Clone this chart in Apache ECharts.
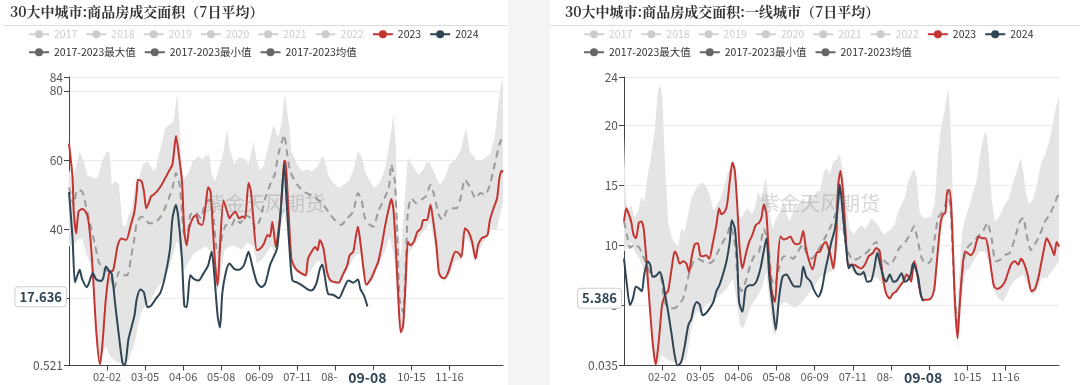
<!DOCTYPE html>
<html><head><meta charset="utf-8">
<script src="https://cdn.jsdelivr.net/npm/echarts@6/dist/echarts.min.js"></script>
<style>
html,body{margin:0;padding:0;background:#f4f4f4;width:1080px;height:385px;overflow:hidden;}
#c1{position:absolute;left:0;top:0;width:508px;height:385px;background:#fff;}
#c2{position:absolute;left:550px;top:0;width:530px;height:385px;background:#fff;}
</style></head><body>
<div id="c1"></div><div id="c2"></div>
<script>
// ---------- data (day index in year 2024, value) ----------
const YEAR_NAMES = ['2017','2018','2019','2020','2021','2022','2023','2024'];
const TICK_DAYS = [32,64,96,128,160,192,224,256,288,320];
const TITLE_L = '30大中城市:商品房成交面积（7日平均）';
const TITLE_R = '30大中城市:商品房成交面积:一线城市（7日平均）';
const WATERMARK = '紫金天风期货';

const L2024 = [[0,50.7],[3,37.3],[5,24.6],[7,26.5],[9,28.2],[11,25.6],[15,23.2],[17,24.6],[20,27.3],[23,25.4],[27,25.0],[29,26.1],[31,29.2],[34,27.8],[36,27.0],[39,17.8],[42,9.1],[45,1.3],[47,0.521],[50,8.1],[55,14.9],[57,19.8],[60,22.5],[63,21.7],[66,17.4],[69,17.8],[73,19.8],[77,21.7],[81,26.6],[85,34.4],[87,43.1],[90,47.0],[92,43.1],[95,31.4],[97,17.8],[99,17.4],[102,26.6],[105,25.6],[109,25.1],[113,27.1],[117,29.5],[120,33.4],[122,27.6],[125,14.9],[127,11.5],[129,21.7],[132,27.6],[135,30.0],[139,28.5],[143,28.2],[147,29.5],[151,33.4],[154,29.5],[158,24.6],[162,23.2],[165,24.2],[169,29.5],[172,31.9],[175,34.4],[178,45.1],[181,58.7],[183,48.0],[186,31.4],[188,25.1],[192,24.5],[196,23.7],[200,22.7],[204,22.2],[208,24.2],[211,28.5],[213,29.7],[215,26.6],[218,21.2],[222,21.0],[227,20.0],[231,22.7],[235,25.1],[239,24.5],[243,25.4],[245,22.7],[248,20.8],[251,17.636]];
const L2023 = [[0,64.7],[3,54.8],[4,45.0],[6,38.7],[8,45.0],[11,45.8],[14,45.0],[16,43.1],[18,37.3],[20,27.6],[23,10.1],[26,0.8],[28,6.2],[31,19.8],[34,27.6],[37,28.0],[39,31.4],[41,35.3],[44,37.3],[48,36.8],[52,41.2],[55,45.0],[57,50.9],[58,54.3],[61,53.8],[63,50.9],[65,46.0],[67,47.5],[69,49.4],[71,49.9],[74,50.9],[77,52.3],[81,54.8],[84,56.7],[87,58.7],[90,66.9],[92,62.5],[95,53.8],[97,39.2],[99,35.3],[101,40.2],[104,43.1],[107,44.1],[109,41.7],[112,41.2],[115,47.0],[117,52.1],[119,50.9],[121,40.2],[123,29.5],[125,23.7],[127,35.3],[130,48.2],[133,45.0],[135,43.1],[137,44.1],[140,45.0],[143,43.1],[146,43.6],[148,43.1],[151,53.3],[153,50.9],[155,43.1],[158,33.9],[161,34.4],[164,35.8],[167,38.3],[169,37.8],[171,42.1],[174,34.8],[176,39.2],[178,45.1],[181,59.6],[182,59.8],[184,48.9],[187,31.4],[189,29.5],[192,28.0],[196,27.1],[199,26.6],[201,31.4],[204,33.4],[207,34.8],[209,33.9],[211,36.8],[214,34.4],[217,27.6],[220,25.1],[224,24.6],[227,24.5],[230,26.6],[234,29.5],[236,32.4],[239,33.4],[241,37.3],[243,40.7],[245,36.3],[248,27.6],[250,23.9],[254,25.6],[257,28.0],[260,30.5],[263,35.3],[266,41.2],[269,46.0],[271,48.7],[273,45.1],[275,33.4],[277,19.8],[279,10.1],[281,12.0],[283,23.7],[285,36.3],[287,35.3],[290,36.3],[293,39.2],[296,40.2],[298,42.6],[301,42.6],[304,47.0],[306,43.1],[309,35.3],[311,27.6],[313,26.1],[316,25.8],[319,27.6],[322,31.0],[325,33.4],[328,32.9],[330,31.9],[333,40.2],[336,39.2],[339,36.3],[342,31.4],[344,35.3],[347,37.3],[350,37.8],[352,38.3],[354,42.6],[357,46.0],[360,48.9],[362,54.8],[364,56.9],[365,56.5]];
const LMEAN = [[0,52.0],[4,47.0],[7,51.4],[11,50.9],[14,47.0],[18,41.2],[22,35.3],[25,30.5],[29,28.5],[34,27.6],[38,22.7],[42,27.6],[45,26.6],[49,26.6],[52,31.4],[55,37.3],[57,41.7],[61,43.6],[64,43.1],[67,41.7],[71,41.7],[76,43.1],[80,45.5],[84,48.9],[87,51.9],[90,56.2],[93,52.8],[95,45.0],[97,38.3],[100,39.2],[102,44.1],[106,45.0],[111,43.1],[114,47.0],[118,48.5],[121,45.0],[124,34.4],[126,32.9],[129,38.3],[132,41.2],[136,40.7],[140,43.1],[144,41.7],[148,44.1],[153,43.1],[157,40.2],[161,43.1],[165,48.9],[169,52.8],[173,55.7],[176,61.6],[180,66.4],[181,67.3],[183,63.0],[186,56.7],[192,52.8],[197,50.9],[203,49.9],[208,48.9],[214,47.0],[220,44.1],[225,42.1],[229,41.2],[234,43.1],[239,45.0],[243,50.4],[246,48.5],[249,43.1],[253,41.2],[256,40.7],[260,45.0],[264,48.0],[269,51.9],[271,58.7],[274,53.8],[276,39.2],[278,19.8],[281,15.9],[283,27.6],[285,45.0],[288,48.9],[292,47.5],[296,48.5],[300,49.4],[304,52.8],[307,49.9],[311,44.1],[314,42.6],[318,45.5],[322,46.0],[326,46.0],[329,48.5],[333,54.3],[337,52.3],[342,48.9],[346,50.4],[350,49.9],[354,52.8],[358,58.7],[362,64.5],[365,67.0]];
const LMAX = [[0,57],[3,54],[7,59.6],[9,62.5],[13,59.1],[15,55.7],[20,54.8],[24,54.8],[28,59.6],[31,62.1],[34,62.5],[36,52.8],[39,53.8],[42,52.8],[45,41.2],[48,40.7],[50,44.1],[53,46.0],[56,53.8],[59,54.8],[62,58.7],[66,59.6],[69,58.2],[71,56.7],[73,57.7],[77,63.5],[81,69.3],[85,70.3],[88,71.3],[91,79.1],[93,70.3],[95,56.7],[97,54.8],[101,56.7],[104,59.6],[107,60.6],[109,61.1],[112,60.1],[115,61.1],[118,61.6],[120,55.7],[123,53.8],[126,57.7],[129,60.6],[133,68.9],[135,63.5],[139,58.7],[143,60.6],[147,60.6],[151,58.7],[153,61.6],[155,65.5],[158,59.6],[161,56.7],[164,58.7],[168,64.5],[172,70.3],[176,66.4],[179,71.3],[181,78.5],[182,78.1],[185,70.3],[187,62.5],[192,58.7],[196,56.7],[200,57.2],[204,56.7],[208,57.7],[213,61.1],[215,60.1],[218,55.7],[222,53.3],[227,51.9],[231,52.8],[235,53.8],[239,56.7],[243,62.5],[246,61.1],[249,56.7],[253,53.8],[257,51.9],[262,53.8],[266,57.7],[270,66.0],[273,73.3],[275,63.5],[276,45.0],[279,31.4],[282,47.0],[285,60.6],[290,57.7],[294,55.7],[298,57.2],[301,59.6],[304,58.7],[308,55.7],[312,52.8],[316,54.8],[320,58.7],[325,60.1],[329,62.5],[334,69.3],[337,62.5],[342,60.1],[346,59.6],[350,60.6],[354,61.6],[358,66.4],[361,76.2],[364,83.0],[365,82.0]];
const LMIN = [[0,35.0],[4,35.3],[7,37.0],[11,37.3],[14,33.4],[18,29.5],[21,22.0],[23,10.0],[26,0.8],[28,4.0],[31,6.0],[35,3.0],[40,1.5],[45,1.0],[50,2.0],[53,5.0],[56,8.1],[58,12.0],[61,15.9],[64,17.8],[68,18.8],[72,21.7],[76,23.7],[80,25.6],[84,28.5],[88,33.0],[91,37.0],[94,32.0],[97,28.0],[100,30.0],[105,33.0],[110,34.0],[115,35.0],[120,33.0],[123,25.0],[125,22.0],[128,28.0],[131,34.0],[135,35.0],[140,35.0],[145,34.0],[150,36.0],[155,35.0],[158,30.0],[162,31.0],[166,33.0],[170,35.0],[174,33.0],[178,40.0],[181,45.0],[184,38.0],[187,29.0],[192,27.5],[196,26.5],[200,26.0],[205,29.0],[210,31.0],[215,27.0],[220,24.5],[225,24.0],[230,25.5],[235,29.0],[240,32.0],[245,33.0],[248,27.0],[251,23.5],[255,25.0],[260,29.0],[265,33.0],[270,38.0],[274,30.0],[277,15.0],[279,9.0],[281,11.0],[283,22.0],[286,33.0],[290,35.0],[295,38.0],[300,40.0],[304,42.0],[308,34.0],[311,26.0],[315,25.0],[320,26.5],[325,31.0],[330,31.0],[334,38.0],[338,35.0],[341,30.5],[345,34.0],[350,37.0],[355,40.0],[360,40.0],[365,48.0]];

const R2024 = [[0,8.94],[2.5,6.7],[5,5.06],[7.5,5.6],[10,6.6],[13,6.4],[15,6.2],[17,7.6],[20,8.7],[22,8.4],[24,7.4],[27,7.5],[30,7.8],[32,7.3],[34,6.2],[37,4.5],[40,2.6],[42.5,0.9],[45,0.035],[48,0.33],[51,1.7],[54,3.4],[56.5,3.9],[58.5,4.8],[61,5.3],[63.5,5.1],[66,4.2],[69,4.4],[72,4.8],[75,5.3],[77.5,6.2],[80,6.7],[83,7.6],[86,8.7],[88.7,10.3],[90.4,12.1],[93,11.4],[95,8.9],[96.6,5.3],[99.4,4.5],[102,6.4],[105,6.7],[108,6.7],[111,7.0],[114.5,8.1],[117,9.4],[119.5,10.6],[122,7.3],[125,4.8],[127.4,3.0],[130,5.6],[133,7.4],[136.4,7.6],[140,7.0],[143,6.6],[147.6,6.6],[150.4,8.25],[153,7.4],[156.6,7.0],[159.4,6.3],[163,5.75],[166,6.4],[168.6,7.8],[171.4,9.1],[174,10.3],[177,11.4],[180,13.9],[181,15.06],[183.7,12.6],[186.5,9.8],[188.5,8.1],[191,8.4],[195,7.7],[198.5,7.6],[201,7.8],[204,7.0],[207.5,7.1],[210,8.1],[212.5,9.4],[215,8.4],[218,7.3],[220,7.0],[223,7.6],[226,7.0],[229,7.1],[233,7.7],[235.5,7.0],[238,7.1],[240.6,7.6],[242.5,8.5],[245,8.0],[247,7.3],[249,5.9],[251,5.386]];
const R2023 = [[0,12.0],[2,13.1],[4,12.6],[6,12.0],[8,10.9],[10,10.6],[12.5,11.9],[14.5,12.0],[16.5,11.4],[18.7,8.9],[21.5,5.1],[24.3,1.7],[26.6,0.1],[29.4,2.3],[32,5.1],[35,6.0],[37,6.2],[40,8.1],[42.5,9.5],[44.5,9.2],[46.7,8.5],[49.6,8.7],[52.3,8.5],[54.6,7.8],[56.5,8.9],[59.3,10.1],[62,10.2],[64,9.2],[66.3,9.1],[69,9.2],[71.4,8.9],[74.7,10.3],[77.5,11.7],[79.8,13.1],[81.7,12.6],[84.5,12.8],[86.5,13.4],[88.7,15.3],[91,16.9],[93,16.2],[95,13.4],[97,9.8],[99.4,8.1],[102,9.2],[105,10.3],[107.8,10.9],[110.6,11.7],[113.4,11.9],[115.3,12.3],[117.3,13.4],[119.5,12.6],[121.8,8.7],[124,6.2],[126.6,5.3],[128.5,7.8],[131.3,10.75],[134,10.5],[137,10.6],[139.7,10.75],[142,10.3],[144.8,10.1],[147.6,10.2],[150.4,11.2],[152.6,9.8],[155.4,8.7],[158.2,8.0],[161.6,9.4],[164.4,9.5],[167.2,10.1],[169.4,10.3],[171.4,9.8],[173.3,9.2],[175.6,8.1],[177.9,10.3],[179.8,15.1],[181.7,16.2],[183.7,14.5],[185.7,11.4],[188,8.4],[190,8.4],[193,8.4],[195.7,8.25],[199,8.1],[202,8.4],[205.3,9.1],[209,9.4],[211.7,9.8],[214.5,9.5],[217.3,7.3],[220,6.0],[223,5.6],[225.7,6.0],[228.5,6.2],[232,6.7],[235,7.1],[237,7.6],[239,7.4],[241,7.0],[243.4,8.7],[245.3,8.1],[248,6.4],[251,5.5],[253.7,5.5],[257.4,5.6],[260.2,6.3],[262,8.1],[264,10.3],[265.8,12.0],[267.7,12.6],[269.7,12.7],[271.4,14.6],[273.3,14.6],[275.3,11.7],[277.5,5.6],[279.8,2.3],[281.7,5.1],[283.7,7.8],[286,9.5],[288,9.4],[291,9.2],[293.8,9.6],[295.7,10.3],[297.7,10.75],[300.5,10.6],[303.3,10.6],[306,9.5],[308.4,7.8],[310.6,6.6],[313.4,6.4],[316.8,6.6],[319.6,7.0],[322.4,7.8],[325.2,8.5],[328,8.7],[330.8,8.4],[333,8.9],[335.8,8.5],[338.6,7.6],[342,6.2],[344.8,6.4],[347.6,7.3],[350.4,8.7],[352.6,9.8],[354.6,10.6],[356.5,10.3],[358.8,9.8],[361,9.2],[363,10.3],[365,9.9]];
const RMEAN = [[0,12.0],[2.5,10.9],[5,9.8],[9,10.1],[13,9.8],[17,8.9],[21.5,7.8],[25.7,7.4],[30,7.8],[34,5.3],[38,4.8],[42.5,4.8],[46,5.1],[49.6,5.6],[52.4,6.7],[55,7.8],[58.5,8.7],[62,8.9],[66,8.7],[70.5,8.5],[74.7,8.7],[79,9.5],[83,10.3],[86.6,10.9],[89.3,11.7],[93,10.1],[95.7,7.0],[98.5,6.2],[102,7.0],[106,8.4],[109.7,9.2],[113.4,9.5],[117.3,11.4],[121,10.1],[123.7,7.3],[126.6,6.7],[130,8.1],[134,9.1],[138,9.1],[142,8.9],[146,9.5],[150,10.1],[153,9.4],[157.4,8.9],[161.6,9.4],[165.8,10.1],[170,10.9],[174,11.7],[178,12.8],[180.7,14.5],[182,14.8],[185,10.6],[188,9.5],[192,8.8],[196,8.9],[200.5,9.2],[204.7,9.5],[209,10.1],[211.7,10.3],[215.4,9.2],[218.7,8.7],[223,8.4],[227,8.9],[231,9.8],[235.5,10.2],[239.7,10.9],[243.4,11.6],[246.7,10.3],[250,8.9],[253.7,8.5],[257.4,8.7],[260.7,10.6],[263.5,12.3],[267,12.8],[269.7,13.4],[272,14.5],[274.2,12.8],[276,8.9],[278,5.1],[280.3,3.4],[282.6,6.4],[285.4,8.9],[288.7,9.9],[293,10.3],[297,10.75],[301.3,11.2],[305,11.9],[308.4,10.6],[311.7,8.7],[315.4,8.8],[319.6,9.2],[323.8,9.4],[328,10.6],[332.2,12.0],[335,12.3],[337.8,10.9],[341.4,9.6],[344.8,10.1],[349,10.9],[353.2,12.0],[357.4,12.6],[361,13.4],[363.8,14.1],[365,14.2]];
const RMAX = [[0,19.0],[1.5,14.0],[3.3,12.8],[6,13.4],[9,12.3],[11.7,12.8],[14.5,14.0],[17.3,13.7],[20,15.9],[23,17.6],[25.7,19.5],[28.5,22.8],[30.5,23.4],[32.2,22.3],[34,17.6],[37,12.0],[40,10.6],[42.5,10.3],[45.3,9.8],[48,11.4],[51,11.2],[53.7,12.6],[56.6,13.9],[59.3,14.5],[62,14.9],[65.8,15.3],[69,14.9],[72,14.2],[75.3,12.8],[78,13.4],[81,13.9],[83.7,14.8],[86.6,15.9],[89.3,16.7],[91,17.0],[93.8,15.3],[95.7,12.6],[98.5,12.3],[101.3,12.8],[104,13.1],[107,12.6],[109.7,13.1],[112.5,14.5],[115.3,13.9],[118,15.3],[119.5,15.6],[121.8,12.8],[124.6,11.4],[128,12.3],[130.8,12.8],[133.6,13.7],[136.4,12.6],[139,12.0],[142,12.8],[144.8,13.1],[147.6,13.7],[150.4,13.9],[153,13.4],[156,14.2],[158.8,13.9],[161.6,14.5],[164.4,14.5],[167.8,16.2],[170,16.4],[172.8,15.9],[175.6,17.0],[178.4,17.1],[181,17.6],[183.7,16.2],[186.5,13.4],[189.3,11.4],[193,10.9],[195.7,11.4],[199,11.7],[202,11.4],[204.7,11.7],[207.5,12.3],[210,12.0],[213,11.7],[216,11.2],[218.7,10.9],[221.5,11.2],[224.3,11.4],[227,11.7],[230,12.8],[232.7,13.4],[235.5,13.9],[238.3,15.3],[241,15.9],[243.4,16.4],[245.6,15.6],[248,12.8],[251,12.3],[253.7,12.3],[257.4,12.4],[260.7,13.4],[263.5,17.6],[266.3,20.1],[269,21.2],[272,23.1],[273.6,21.2],[275.3,16.2],[277.5,7.8],[279.5,4.5],[281,7.0],[283.7,11.2],[286.5,12.3],[290,13.4],[293,14.5],[295.7,15.3],[298.5,17.3],[301.3,18.9],[304,19.5],[306,17.6],[308.4,13.9],[311.2,12.0],[314,12.3],[316.8,12.8],[319.6,13.4],[323,13.9],[326.6,15.3],[330.2,16.4],[333,17.3],[335,16.2],[337,14.5],[339.7,13.4],[343.4,13.9],[347,15.3],[350.4,17.0],[353.7,17.6],[357.4,18.9],[360.2,20.3],[363,21.7],[365,22.4]];
const RMIN = [[0,9.5],[2.5,9.8],[6,10.3],[9,9.5],[13,8.9],[17.3,7.8],[20,6.4],[23,4.2],[26,0.1],[28.5,0.05],[31.3,0.9],[35.5,0.6],[41,0.3],[46.7,0.3],[52.4,0.6],[55.2,2.3],[58,3.9],[60.8,4.5],[65,4.5],[69,5.1],[74.7,5.3],[80.4,5.9],[86,6.4],[91.5,7.3],[95,5.1],[97,3.4],[100,3.1],[102.7,3.9],[107,5.1],[111,5.6],[115.3,6.4],[119.5,7.8],[122.3,5.1],[125,2.8],[127.4,2.6],[130.8,5.1],[135,5.3],[139,5.1],[143.4,4.8],[147.6,5.1],[151.8,5.6],[156,6.2],[160.2,6.7],[164.4,7.3],[168.6,7.6],[172.8,7.8],[177,8.0],[181,11.2],[183.7,11.2],[188,8.3],[192,7.8],[196.3,7.6],[202,7.3],[207.5,7.4],[213,7.3],[217.3,6.7],[221.5,5.6],[225.7,5.9],[230,6.4],[235.5,7.0],[239.7,7.3],[244,8.1],[248,6.2],[251.8,5.3],[256.5,5.5],[260.7,6.2],[263.5,8.9],[266.3,11.4],[269,12.3],[272,13.9],[274.7,11.2],[277.5,4.5],[280.3,1.4],[282.6,4.5],[286,7.8],[290,8.1],[294.3,8.9],[298.5,9.5],[302.7,9.5],[307,8.4],[309.8,6.4],[314,5.6],[318.2,5.3],[322.4,6.2],[326.6,7.0],[330.8,7.3],[335,7.6],[339.2,6.7],[342.5,5.9],[346.2,6.2],[350.4,7.3],[354.6,7.3],[358.8,7.8],[363,8.4],[365,8.7]];

// ---------- helpers ----------
function fmtDay(d){
  const dt = new Date(2024, 0, 1 + Math.round(d));
  return String(dt.getMonth()+1).padStart(2,'0') + '-' + String(dt.getDate()).padStart(2,'0');
}
const FONT = '"Noto Sans CJK SC", "Noto Sans", sans-serif';
const RED = '#c23531', NAVY = '#2f4554', BAND = '#e4e4e4', MEANC = '#9a9a9a', DARK = '#666';

function buildOption(cfg){
  const legendItems1 = YEAR_NAMES.map(n => ({name:n}));
  const statItem = n => ({name:n, itemStyle:{color:DARK}, lineStyle:{color:DARK, opacity:1, width:2, type:'solid'}});
  const selected = {};
  YEAR_NAMES.slice(0,6).forEach(n => selected[n] = false);
  const last24 = cfg.s2024[cfg.s2024.length-1];
  const yearSeries = YEAR_NAMES.slice(0,6).map(n => ({
    name:n, type:'line', data:[], symbol:'none', color:'#ccc', showSymbol:false
  }));
  const legendCommon = {
    itemWidth:20, itemHeight:10, itemGap:8,
    textStyle:{fontSize:10.5, color:'#333', fontFamily:FONT},
    inactiveColor:'#ccc', selected:selected, padding:0
  };
  return {
    animation:false,
    title:{ text:cfg.title, left:cfg.titleLeft, top:5, padding:0,
      textStyle:{fontSize:14, fontWeight:'bold', color:'#333', fontFamily:'"Noto Serif CJK SC", "Noto Sans CJK SC", serif'} },
    graphic:[
      {type:'line', shape:{x1:cfg.sepX1, y1:25.5, x2:cfg.sepX2, y2:25.5}, style:{stroke:'#dcdcdc', lineWidth:1}, silent:true},
      {type:'text', left:cfg.wmX, top:193, z:100, silent:true,
       style:{text:WATERMARK, fontSize:20, fill:'rgba(110,110,110,0.28)', fontFamily:FONT}}
    ],
    legend:[
      Object.assign({}, legendCommon, {left:cfg.legendLeft, top:29, data:legendItems1}),
      Object.assign({}, legendCommon, {left:cfg.legendLeft, top:47, data:[statItem('2017-2023最大值'), statItem('2017-2023最小值'), statItem('2017-2023均值')]})
    ],
    axisPointer:{triggerOn:'none'},
    grid:{left:cfg.gridLeft, right:cfg.gridRight, top:77, bottom:19.5, containLabel:false},
    xAxis:{
      type:'value', min:0, max:365,
      axisLine:{show:true, lineStyle:{color:'#444'}},
      axisTick:{show:true, customValues:TICK_DAYS, lineStyle:{color:'#444'}, length:5},
      axisLabel:{customValues:TICK_DAYS, formatter:v => fmtDay(v), color:'#555', fontSize:11, margin:6, fontFamily:FONT},
      splitLine:{show:false},
      axisPointer:{show:true, type:'line', value:last24[0], status:'show', snap:false, triggerTooltip:false,
        lineStyle:{opacity:0},
        label:{show:true, formatter:p => fmtDay(p.value), backgroundColor:'#fff', color:NAVY,
          fontWeight:'bold', fontSize:14, padding:[1,10,0,10], margin:6, fontFamily:FONT,
          shadowBlur:0, borderWidth:0}}
    },
    yAxis:{
      type:'value', min:cfg.yMin, max:cfg.yMax,
      axisLine:{show:true, lineStyle:{color:'#444'}},
      axisTick:{show:true, lineStyle:{color:'#444'}, length:5},
      axisLabel:{color:'#555', fontSize:12, margin:6, fontFamily:FONT},
      splitLine:{show:true, lineStyle:{color:'#eaeaea'}},
      axisPointer:{show:true, type:'line', value:cfg.yPointer, status:'show', snap:false, triggerTooltip:false,
        lineStyle:{opacity:0},
        label:{show:true, formatter:() => String(last24[1]), backgroundColor:'#fff', color:NAVY,
          fontWeight:'bold', fontSize:13, padding:[3,4,3,4], margin:3, borderColor:'#cfcfcf', borderWidth:1,
          fontFamily:FONT, shadowBlur:0}}
    },
    series:[
      ...yearSeries,
      { name:'band', type:'custom', silent:true, z:1, data:[[0, cfg.yMin]],
        renderItem:(params, api) => {
          const pts = [];
          cfg.max.forEach(p => pts.push(api.coord(p)));
          for (let i = cfg.min.length-1; i >= 0; i--) pts.push(api.coord(cfg.min[i]));
          return {type:'polygon', shape:{points:pts}, style:{fill:BAND}, silent:true};
        }
      },
      { name:'2017-2023最大值', type:'line', data:cfg.max, symbol:'none', color:DARK, lineStyle:{opacity:0}, silent:true, z:1 },
      { name:'2017-2023最小值', type:'line', data:cfg.min, symbol:'none', color:DARK, lineStyle:{opacity:0}, silent:true, z:1 },
      { name:'2017-2023均值', type:'line', data:cfg.mean, symbol:'none', color:DARK, smooth:0.2,
        lineStyle:{color:MEANC, width:2, type:[7,5]}, z:3 },
      { name:'2023', type:'line', data:cfg.s2023, symbol:'none', color:RED, smooth:0.25, lineStyle:{width:2}, z:4 },
      { name:'2024', type:'line', data:cfg.s2024, symbol:'none', color:NAVY, smooth:0.25, lineStyle:{width:2}, z:5 }
    ]
  };
}

const chartL = echarts.init(document.getElementById('c1'), null, {renderer:'canvas'});
chartL.setOption(buildOption({
  title:TITLE_L, titleLeft:10, legendLeft:28, sepX1:3, sepX2:507, wmX:205,
  gridLeft:69, gridRight:5, yMin:0.521, yMax:84, yPointer:20.4,
  s2024:L2024, s2023:L2023, mean:LMEAN, max:LMAX, min:LMIN
}));
const chartR = echarts.init(document.getElementById('c2'), null, {renderer:'canvas'});
chartR.setOption(buildOption({
  title:TITLE_R, titleLeft:15, legendLeft:33, sepX1:0, sepX2:530, wmX:210,
  gridLeft:74, gridRight:21, yMin:0.035, yMax:24, yPointer:5.62,
  s2024:R2024, s2023:R2023, mean:RMEAN, max:RMAX, min:RMIN
}));
</script>
</body></html>
